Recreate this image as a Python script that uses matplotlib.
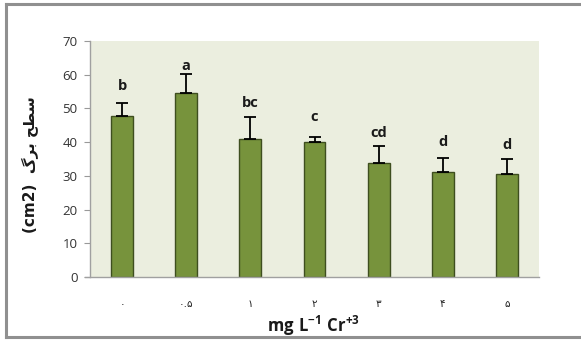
import matplotlib
matplotlib.use("Agg")
import matplotlib.pyplot as plt
from matplotlib.lines import Line2D

categories = ["۰", "۰.۵", "۱", "۲", "۳", "۴", "۵"]
leaf_area = [47.8, 54.5, 41.0, 40.0, 33.7, 31.2, 30.5]
err_upper = [3.7, 5.8, 6.6, 1.5, 5.3, 4.1, 4.6]
letters = ["b", "a", "bc", "c", "cd", "d", "d"]
letter_y = [56.7, 62.6, 51.6, 47.5, 42.6, 40.1, 39.1]
yticks = [0, 10, 20, 30, 40, 50, 60, 70]

plt.rcParams["font.family"] = ["Open Sans", "DejaVu Sans"]
plt.rcParams["mathtext.fontset"] = "custom"
plt.rcParams["mathtext.bf"] = "Open Sans:bold"
plt.rcParams["mathtext.rm"] = "Open Sans"

fig = plt.figure(figsize=(5.81, 3.40), dpi=100)
W, H = 581, 340
ax = fig.add_axes([90 / W, 1 - 277 / H, (539 - 90) / W, (277 - 41) / H])
ax.set_facecolor("#EBEEDF")

x = list(range(len(categories)))
ax.bar(x, leaf_area, width=0.34, color="#77933C", edgecolor="#3E4E1F",
       linewidth=1.0, zorder=2)
ax.errorbar(x, leaf_area, yerr=[[0] * len(x), err_upper], fmt="none",
            ecolor="black", elinewidth=1.3, capsize=4, capthick=1.3, zorder=3)
for xi, lab, ly in zip(x, letters, letter_y):
    ax.text(xi, ly, lab, ha="center", va="center", fontsize=10.5,
            fontweight="bold", color="#1a1a1a")

ax.set_xlim(-0.5, len(x) - 0.5)
ax.set_ylim(0, 70)
ax.set_yticks(yticks)
ax.tick_params(axis="y", length=4, color="#999999", labelsize=9.5,
               labelcolor="#333333", pad=5)
ax.set_xticks(x)
ax.set_xticklabels(categories, family=["DejaVu Sans"])
ax.tick_params(axis="x", length=0, labelsize=7.5, labelcolor="#222222", pad=16)
for s in ("top", "right"):
    ax.spines[s].set_visible(False)
for s in ("left", "bottom"):
    ax.spines[s].set_color("#A0A0A0")
    ax.spines[s].set_linewidth(1.0)
ax.spines["bottom"].set_bounds(-0.5 - 0.08, len(x) - 0.5)

fig.text(313 / W, 1 - 326 / H, r"$\mathbf{mg\ L^{-1}\ Cr^{+3}}$",
         ha="center", va="center", fontsize=12, color="#1a1a1a")

# y label: "(cm2)" followed by the Persian words in presentation forms
ylab = "(cm2)  " + "\uFB92\uFEAE\uFE91 \uFEA2\uFEC4\uFEB3"
fig.text(30 / W, 1 - 165 / H, ylab, rotation=90, ha="center", va="center",
         fontsize=11, fontweight="bold", color="#1a1a1a",
         family=["DejaVu Sans"])

# frame around the figure
frame_kw = dict(color="#909090", linewidth=2.2, transform=fig.transFigure)
fig.add_artist(Line2D([6 / W, 6 / W], [1 - 4 / H, 1 - 337 / H], **frame_kw))
fig.add_artist(Line2D([6 / W, 1.0], [1 - 4 / H, 1 - 4 / H], **frame_kw))
fig.add_artist(Line2D([6 / W, 1.0], [1 - 337 / H, 1 - 337 / H], **frame_kw))

fig.savefig("out.png", dpi=100)
